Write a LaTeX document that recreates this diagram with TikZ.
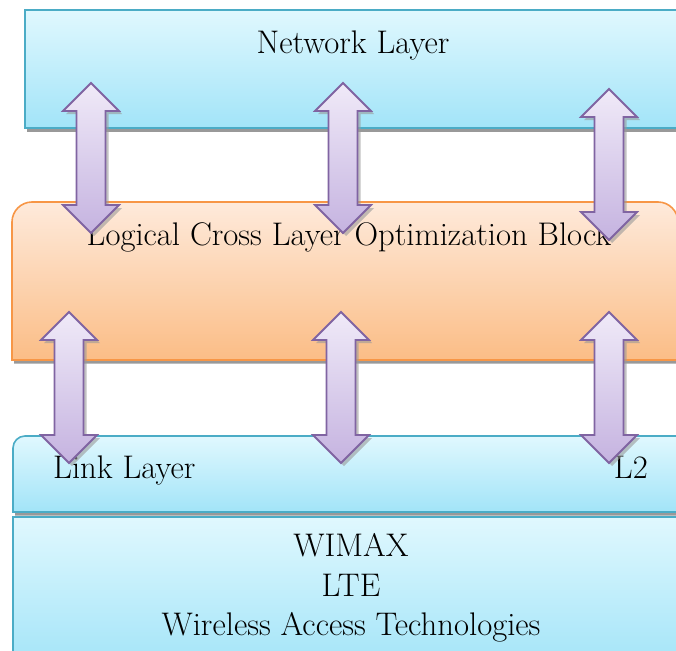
\documentclass[tikz,border=0pt]{standalone}
\usepackage{fontspec}
\usetikzlibrary{shadows}
\definecolor{cyanborder}{HTML}{4BACC6}
\definecolor{cyantop}{HTML}{E0F8FE}
\definecolor{cyanbot}{HTML}{A2E4F8}
\definecolor{orborder}{HTML}{F79646}
\definecolor{ortop}{HTML}{FEEADB}
\definecolor{orbot}{HTML}{FBBD86}
\definecolor{purborder}{HTML}{8064A2}
\definecolor{purtop}{HTML}{F0EAF8}
\definecolor{purbot}{HTML}{C5B3E0}
\tikzset{
  boxshadow/.style={drop shadow={shadow xshift=2pt, shadow yshift=-3.5pt, fill=black!40, opacity=1}},
  cyanbox/.style={draw=cyanborder, line width=1.6pt, top color=cyantop, bottom color=cyanbot, boxshadow},
  orbox/.style={draw=orborder, line width=1.6pt, top color=ortop, bottom color=orbot, boxshadow},
  blockarrow/.style={draw=purborder, line width=1.8pt, top color=purtop, bottom color=purbot,
    drop shadow={shadow xshift=3pt, shadow yshift=-3pt, fill=black!40, opacity=0.6}},
  txt/.style={inner sep=0pt, font=\fontsize{32.7}{39}\selectfont}
}
\begin{document}
\begin{tikzpicture}[x=1pt,y=-1pt]
\useasboundingbox (0,0) rectangle (676,650);
\clip (0,0) rectangle (676,650);
% boxes
\path[cyanbox] (25,10) rectangle (700,128);
\coordinate (netbox) at (353,69);
\path[orbox] (12,360) -- (12,222) .. controls (12,211) and (21,202) .. (32,202)
   -- (658,202) .. controls (669,202) and (678,211) .. (678,222) -- (678,360) -- cycle;
\coordinate (optbox) at (345,281);
\path[cyanbox] (13,517) rectangle (700,670);
\path[cyanbox] (13,512) -- (13,448) .. controls (13,441.4) and (18.4,436) .. (25,436)
   -- (700,436) -- (700,512) -- cycle;
\coordinate (linkbox) at (345,474);
% texts
\node[txt, anchor=base] (nettxt) at (353,54) {Network Layer};
\node[txt, anchor=base] (opttxt) at (349,245) {Logical Cross Layer Optimization Block};
\node[txt, anchor=base west] (linktxt) at (53,478) {Link Layer};
\node[txt, anchor=base east] (l2txt) at (648,478) {L2};
\node[txt, anchor=base] (wimax) at (351,556) {WIMAX};
\node[txt, anchor=base] (lte) at (351,596) {LTE};
\node[txt, anchor=base] (wat) at (351,635) {Wireless Access Technologies};
% double block arrows
\foreach \c/\t/\b in {91/83/233, 343/83/233, 609/89/240, 69/312/463, 341/312/463, 609/312/463}{
  \path[blockarrow] (\c,\t) -- ({\c+28},{\t+28}) -- ({\c+14.5},{\t+28}) -- ({\c+14.5},{\b-28})
    -- ({\c+28},{\b-28}) -- (\c,\b) -- ({\c-28},{\b-28}) -- ({\c-14.5},{\b-28})
    -- ({\c-14.5},{\t+28}) -- ({\c-28},{\t+28}) -- cycle;
}
\end{tikzpicture}
\end{document}
